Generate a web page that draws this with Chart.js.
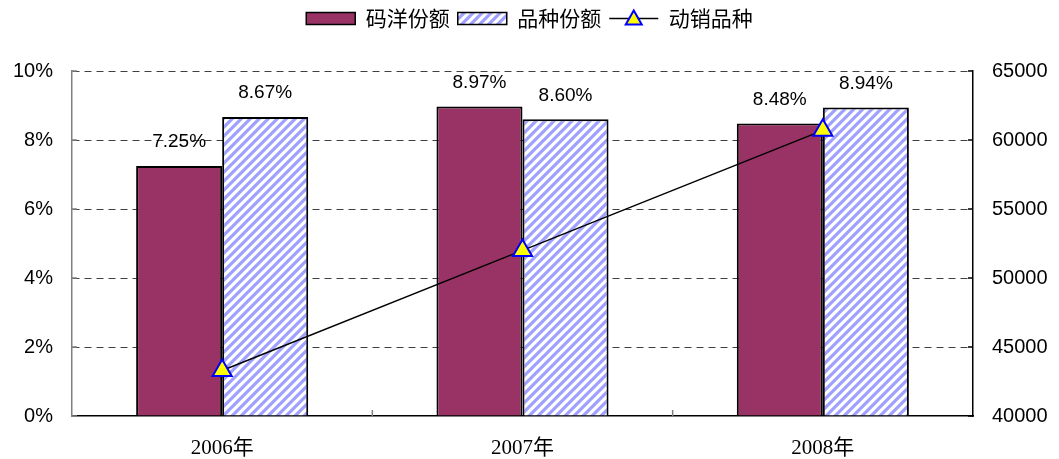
<!DOCTYPE html>
<html>
<head>
<meta charset="utf-8">
<script src="https://cdn.jsdelivr.net/npm/chart.js@4"></script>
<style>
  html, body { margin: 0; padding: 0; background: #fff; }
  #wrap { width: 1059px; height: 459px; }
</style>
</head>
<body>
<div id="wrap"><canvas id="grafico"></canvas></div>
<script>
"use strict";

// datos
const anios = ["2006年", "2007年", "2008年"];
const mayangFene = [7.25, 8.97, 8.48];     // 码洋份额 (%)
const pinzhongFene = [8.67, 8.60, 8.94];   // 品种份额 (%)
const dongxiao = [43300, 52000, 60700];    // 动销品种
const ticksIzq = [0, 2, 4, 6, 8, 10];
const ticksDer = [40000, 45000, 50000, 55000, 60000, 65000];

const fuenteSans = "'Liberation Sans', Arial, sans-serif";

// trama de rayas diagonales para 品种份额
function crearTrama() {
    const n = 9;
    const c = document.createElement("canvas");
    c.width = n; c.height = n;
    const g = c.getContext("2d");
    g.fillStyle = "#ffffff";
    g.fillRect(0, 0, n, n);
    g.strokeStyle = "#a0a0ff";
    g.lineWidth = 3.2;
    g.beginPath();
    g.moveTo(-n / 2, n / 2); g.lineTo(n / 2, -n / 2);
    g.moveTo(0, n); g.lineTo(n, 0);
    g.moveTo(n / 2, n * 1.5); g.lineTo(n * 1.5, n / 2);
    g.stroke();
    return g.createPattern(c, "repeat");
}
const trama = crearTrama();

// espacio extra bajo la leyenda
const espacioLeyenda = {
    id: "espacioLeyenda",
    afterInit(chart) {
        const leyenda = chart.legend;
        const fitOriginal = Object.getPrototypeOf(leyenda).fit;
        leyenda.fit = function () {
            fitOriginal.call(this);
            this.height += 32;
        };
    }
};

// etiquetas de valor encima de las barras
const etiquetasBarras = {
    id: "etiquetasBarras",
    afterDatasetsDraw(chart) {
        const ctx = chart.ctx;
        ctx.save();
        ctx.font = "19px " + fuenteSans;
        ctx.fillStyle = "#000";
        ctx.textAlign = "center";
        ctx.textBaseline = "middle";
        [0, 1].forEach(i => {
            const meta = chart.getDatasetMeta(i);
            meta.data.forEach((bar, j) => {
                const v = chart.data.datasets[i].data[j];
                ctx.fillText(v.toFixed(2) + "%", bar.x, bar.y - 24);
            });
        });
        ctx.restore();
    }
};

// marcas cortas de los ejes (hacia dentro) y simbolo de linea en la leyenda
const marcasEjes = {
    id: "marcasEjes",
    afterDraw(chart) {
        const ctx = chart.ctx;
        const { x, y, y1 } = chart.scales;
        const area = chart.chartArea;
        ctx.save();
        ctx.lineWidth = 1.5;
        ctx.strokeStyle = "#808080";
        ctx.beginPath();
        ticksIzq.forEach(t => {
            const py = y.getPixelForValue(t);
            ctx.moveTo(area.left, py); ctx.lineTo(area.left + 5, py);
        });
        const paso = (x.getPixelForValue(1) - x.getPixelForValue(0));
        for (let i = 1; i < anios.length; i++) {
            const px = x.getPixelForValue(i) - paso / 2;
            ctx.moveTo(px, area.bottom); ctx.lineTo(px, area.bottom - 6);
        }
        ctx.stroke();
        ctx.strokeStyle = "#000";
        ctx.beginPath();
        ticksDer.forEach(t => {
            const py = y1.getPixelForValue(t);
            ctx.moveTo(area.right - 5, py); ctx.lineTo(area.right, py);
        });
        ctx.stroke();

        // simbolo de 动销品种 en la leyenda
        const caja = chart.legend.legendHitBoxes[2];
        if (caja) {
            const cy = caja.top + caja.height / 2;
            const ancho = chart.legend.options.labels.boxWidth;
            ctx.strokeStyle = "#000";
            ctx.lineWidth = 1.5;
            ctx.beginPath();
            ctx.moveTo(caja.left, cy); ctx.lineTo(caja.left + ancho, cy);
            ctx.stroke();
            const cx = caja.left + ancho / 2;
            ctx.fillStyle = "#ffff00";
            ctx.strokeStyle = "#0000ff";
            ctx.lineWidth = 2;
            ctx.beginPath();
            ctx.moveTo(cx, cy - 8);
            ctx.lineTo(cx + 8, cy + 6);
            ctx.lineTo(cx - 8, cy + 6);
            ctx.closePath();
            ctx.fill(); ctx.stroke();
        }
        ctx.restore();
    }
};

const grafico = new Chart(document.getElementById("grafico"), {
    type: "bar",
    data: {
        labels: anios,
        datasets: [
            {
                label: "码洋份额", data: mayangFene, yAxisID: "y",
                backgroundColor: "#993366", borderColor: "#000", borderWidth: 2,
                categoryPercentage: 0.573, barPercentage: 1.0, order: 1
            },
            {
                label: "品种份额", data: pinzhongFene, yAxisID: "y",
                backgroundColor: trama, borderColor: "#000", borderWidth: 2,
                categoryPercentage: 0.573, barPercentage: 1.0, order: 1
            },
            {
                type: "line", label: "动销品种", data: dongxiao, yAxisID: "y1",
                borderColor: "#000", borderWidth: 1.5, fill: false, tension: 0,
                pointStyle: "triangle", pointRadius: 11, pointHoverRadius: 11,
                pointBackgroundColor: "#ffff00", pointBorderColor: "#0000ff", pointBorderWidth: 2,
                order: 0
            }
        ]
    },
    options: {
        responsive: true,
        maintainAspectRatio: false,
        animation: false,
        layout: { padding: { top: 0, left: 0, right: 0, bottom: 0 } },
        plugins: {
            tooltip: { enabled: false },
            legend: {
                position: "top",
                labels: {
                    boxWidth: 49, boxHeight: 12, padding: 8, color: "#000",
                    font: { size: 21, family: "'Noto Sans CJK SC', sans-serif" },
                    sort: (a, b) => a.datasetIndex - b.datasetIndex,
                    generateLabels(chart) {
                        const items = Chart.defaults.plugins.legend.labels.generateLabels(chart);
                        items.forEach(it => {
                            if (it.datasetIndex === 2) {
                                it.fillStyle = "rgba(0,0,0,0)";
                                it.strokeStyle = "rgba(0,0,0,0)";
                                it.lineWidth = 0;
                            } else {
                                it.lineWidth = 1.5;
                                it.strokeStyle = "#000";
                            }
                        });
                        return items;
                    }
                }
            }
        },
        scales: {
            x: {
                grid: { display: false, drawTicks: false },
                border: { color: "#000", width: 1.5 },
                ticks: { color: "#000", padding: 20, font: { size: 21, family: "'Liberation Serif', 'Noto Sans CJK SC', serif" } },
                afterFit(s) { s.height = 43; }
            },
            y: {
                position: "left", min: 0, max: 10,
                afterBuildTicks(s) { s.ticks = ticksIzq.map(v => ({ value: v })); },
                grid: {
                    color: c => (c.tick && c.tick.value === 0) ? "rgba(0,0,0,0)" : "#404040",
                    lineWidth: 1, drawTicks: false
                },
                border: { color: "#808080", width: 1.5, dash: [7, 5] },
                ticks: { color: "#000", padding: 19, font: { size: 20, family: fuenteSans }, callback: v => v + "%" },
                afterFit(s) { s.width = 72; }
            },
            y1: {
                position: "right", min: 40000, max: 65000,
                afterBuildTicks(s) { s.ticks = ticksDer.map(v => ({ value: v })); },
                grid: { drawOnChartArea: false, drawTicks: false },
                border: { color: "#000", width: 1.5 },
                ticks: { color: "#000", padding: 19, font: { size: 20, family: fuenteSans }, callback: v => String(v) },
                afterFit(s) { s.width = 86; }
            }
        }
    },
    plugins: [espacioLeyenda, etiquetasBarras, marcasEjes]
});
</script>
</body>
</html>
